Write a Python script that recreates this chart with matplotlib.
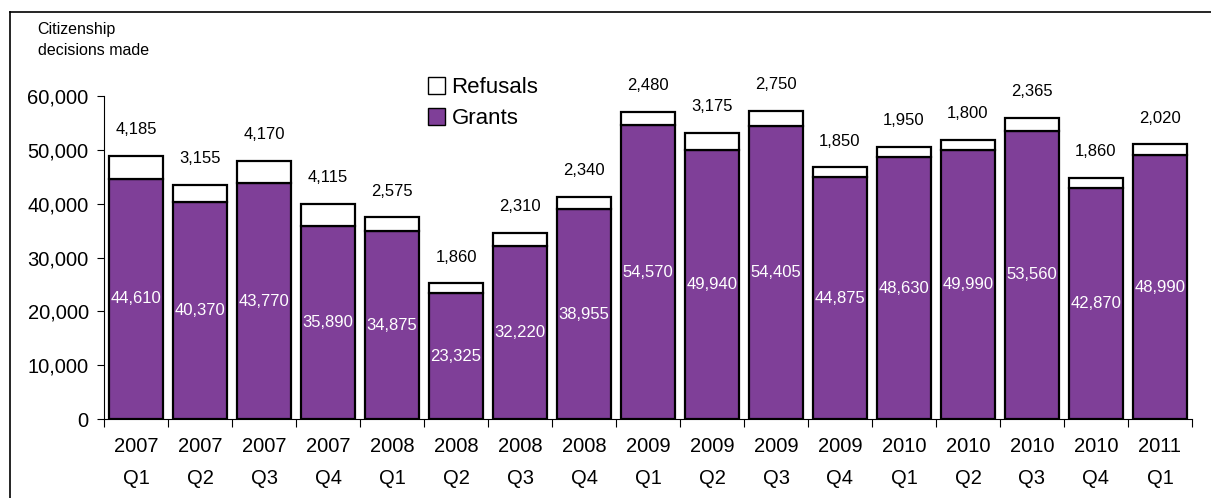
import numpy as np
import matplotlib.pyplot as plt
from matplotlib.lines import Line2D
from matplotlib.patches import Patch

plt.rcParams['font.family'] = ['Liberation Sans', 'DejaVu Sans']

quarters = ["2007\nQ1", "2007\nQ2", "2007\nQ3", "2007\nQ4",
            "2008\nQ1", "2008\nQ2", "2008\nQ3", "2008\nQ4",
            "2009\nQ1", "2009\nQ2", "2009\nQ3", "2009\nQ4",
            "2010\nQ1", "2010\nQ2", "2010\nQ3", "2010\nQ4",
            "2011\nQ1"]
grants = [44610, 40370, 43770, 35890, 34875, 23325, 32220, 38955,
          54570, 49940, 54405, 44875, 48630, 49990, 53560, 42870, 48990]
refusals = [4185, 3155, 4170, 4115, 2575, 1860, 2310, 2340,
            2480, 3175, 2750, 1850, 1950, 1800, 2365, 1860, 2020]

PURPLE = '#7f3f98'

fig = plt.figure(figsize=(12.11, 4.98), dpi=100)
ax = fig.add_axes([0.0859, 0.1586, 0.8984, 0.6486])

x = np.arange(len(quarters))
g = np.array(grants)
r = np.array(refusals)

ax.bar(x, g, width=0.84, color=PURPLE, edgecolor='black', linewidth=1.6)
ax.bar(x, r, bottom=g, width=0.84, color='white', edgecolor='black', linewidth=1.6)

for xi, gv, rv in zip(x, g, r):
    ax.text(xi, gv / 2, f"{gv:,}", ha='center', va='center', color='white', fontsize=12)
    ax.annotate(f"{rv:,}", (xi, gv + rv), xytext=(0, 19), textcoords='offset points',
                ha='center', va='center', fontsize=12, annotation_clip=False)

ax.set_xlim(-0.5, len(quarters) - 0.5)
ax.set_ylim(0, 60000)
ax.set_yticks(np.arange(0, 60001, 10000))
ax.yaxis.set_major_formatter(plt.FuncFormatter(lambda v, p: f"{int(v):,}"))
ax.set_xticks(np.arange(-0.5, len(quarters), 1), minor=False)
ax.set_xticklabels([])
ax.set_xticks(x, minor=True)
ax.set_xticklabels(quarters, minor=True, fontsize=14.5, linespacing=1.85)
ax.tick_params(axis='x', which='minor', length=0, pad=13)
ax.tick_params(axis='x', which='major', length=6, direction='out')
ax.tick_params(axis='y', labelsize=14.5, length=5, direction='out', pad=6)
for s in ['top', 'right']:
    ax.spines[s].set_visible(False)

handles = [Patch(facecolor='white', edgecolor='black', label='Refusals'),
           Patch(facecolor=PURPLE, edgecolor='black', label='Grants')]
fig.legend(handles=handles, loc='upper left', bbox_to_anchor=(0.337, 0.885),
           frameon=False, fontsize=16, handlelength=0.75, handleheight=0.75,
           handletextpad=0.3, labelspacing=0.45)

fig.text(0.031, 0.955, "Citizenship\ndecisions made", fontsize=11.5, va='top',
         linespacing=1.45)

# outer frame
fig.add_artist(Line2D([0.008, 0.008], [0, 0.976], color='black', lw=1.2))
fig.add_artist(Line2D([0.008, 1.0], [0.976, 0.976], color='black', lw=1.2))

fig.savefig('out.png', dpi=100)
